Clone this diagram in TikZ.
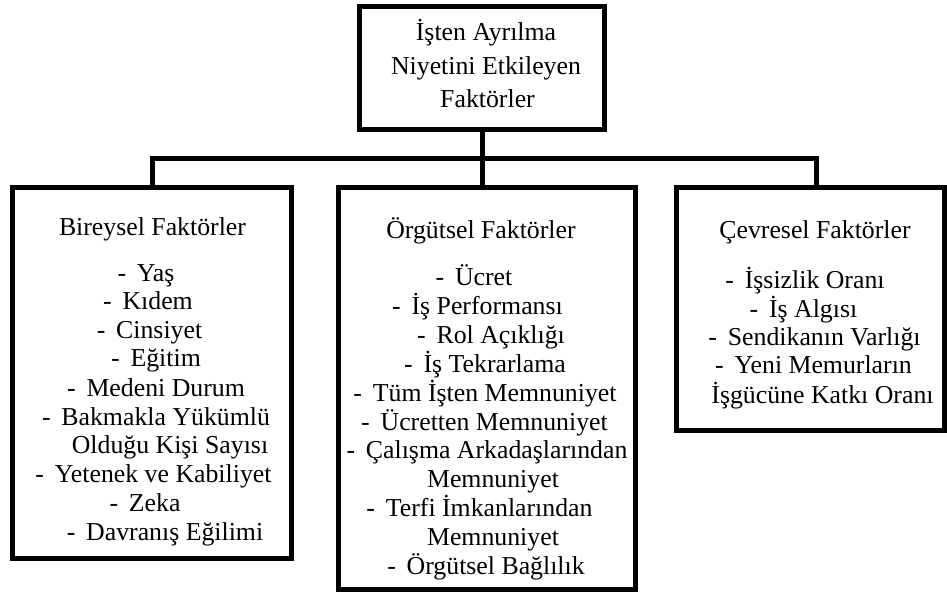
\documentclass[tikz,border=0pt]{standalone}
\usepackage{fontspec}
\setmainfont{Liberation Serif}
\newcommand{\dsh}{-\hspace{0.42em}}
\begin{document}
\begin{tikzpicture}[x=1pt,y=-1pt,
  box/.style={draw, line width=5pt, inner sep=0pt, outer sep=0pt, rectangle},
  lbl/.style={anchor=base, inner sep=0pt, font=\fontsize{25.8}{30}\selectfont},
  link/.style={line width=5pt}]
\useasboundingbox (0,0) rectangle (947,592);
% boxes
\node[box, minimum width=245pt, minimum height=123pt] (top) at (482,68) {};
\node[box, minimum width=279pt, minimum height=370.5pt] (left) at (152,372.75) {};
\node[box, minimum width=296.5pt, minimum height=402pt] (mid) at (486.75,388.5) {};
\node[box, minimum width=268pt, minimum height=243pt] (right) at (810.5,309) {};
% connectors
\coordinate (busR) at (816.5,158.5);
\draw[link] (top.south) -- (top.south |- mid.north);
\draw[link] (left.north) |- (busR) -- (busR |- right.north);
% top text
\node[lbl] (t1) at (486,40.5) {İşten Ayrılma};
\node[lbl] (t2) at (486,74) {Niyetini Etkileyen};
\node[lbl] (t3) at (487.5,107.5) {Faktörler};
% left text
\node[lbl] (l0) at (152.5,235) {Bireysel Faktörler};
\node[lbl] (l1) at (146,281) {\dsh Yaş};
\node[lbl] (l2) at (148,309.5) {\dsh Kıdem};
\node[lbl] (l3) at (149.5,338) {\dsh Cinsiyet};
\node[lbl] (l4) at (156,366.5) {\dsh Eğitim};
\node[lbl] (l5) at (156,396) {\dsh Medeni Durum};
\node[lbl] (l6) at (156,425) {\dsh Bakmakla Yükümlü};
\node[lbl] (l7) at (170,453.5) {Olduğu Kişi Sayısı};
\node[lbl] (l8) at (153.5,482) {\dsh Yetenek ve Kabiliyet};
\node[lbl] (l9) at (145,511) {\dsh Zeka};
\node[lbl] (l10) at (165,540) {\dsh Davranış Eğilimi};
% middle text
\node[lbl] (m0) at (481,238) {Örgütsel Faktörler};
\node[lbl] (m1) at (474,285) {\dsh Ücret};
\node[lbl] (m2) at (477.5,314) {\dsh İş Performansı};
\node[lbl] (m3) at (491,343) {\dsh Rol Açıklığı};
\node[lbl] (m4) at (485,372) {\dsh İş Tekrarlama};
\node[lbl] (m5) at (485,401) {\dsh Tüm İşten Memnuniyet};
\node[lbl] (m6) at (484.5,430) {\dsh Ücretten Memnuniyet};
\node[lbl] (m7) at (487,458) {\dsh Çalışma Arkadaşlarından};
\node[lbl] (m8) at (493,487) {Memnuniyet};
\node[lbl] (m9) at (479.5,516) {\dsh Terfi İmkanlarından};
\node[lbl] (m10) at (493,545) {Memnuniyet};
\node[lbl] (m11) at (486,574) {\dsh Örgütsel Bağlılık};
% right text
\node[lbl] (r0) at (815,238) {Çevresel Faktörler};
\node[lbl] (r1) at (805,288) {\dsh İşsizlik Oranı};
\node[lbl] (r2) at (803.5,317) {\dsh İş Algısı};
\node[lbl] (r3) at (814.5,345) {\dsh Sendikanın Varlığı};
\node[lbl] (r4) at (813.5,373) {\dsh Yeni Memurların};
\node[lbl] (r5) at (822.5,403) {İşgücüne Katkı Oranı};
\end{tikzpicture}
\end{document}
